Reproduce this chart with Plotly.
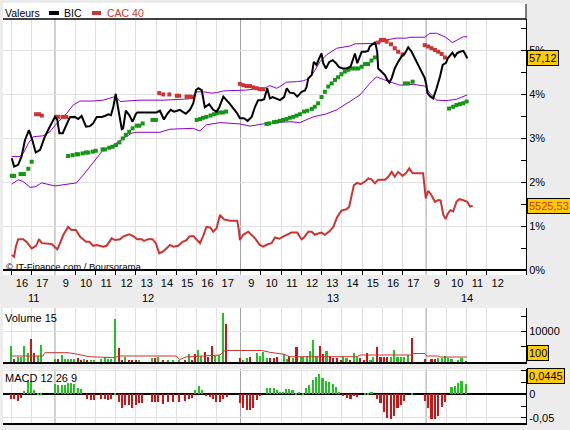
import plotly.graph_objects as go

# x unit = one 10-minute bar, bar 0 = day 12 at 9:00 (55 bars per session)
BARS_PER_DAY = 55
X_MIN, X_MAX = -15.4, 139.6

# BIC, % change
bic_bar = [-12.8, -12.1, -10.9, -9.9, -8.9, -7.7, -6.7, -5.7, -4.4, -3.0, -1.5, 0.0, 0.7, 1.3, 2.3, 3.5, 4.4,
           5.9, 6.9, 7.9, 9.2, 10.4, 11.3, 12.4, 13.8, 14.8, 15.8, 16.6, 17.3, 18.0, 18.5, 19.1, 19.8, 20.2,
           21.0, 22.0, 23.0, 24.0, 24.4, 30.1, 31.1, 32.3, 33.3, 34.3, 35.3, 36.2, 37.0, 38.0, 38.8, 40.0,
           41.0, 41.8, 42.5, 43.5, 44.4, 45.7, 46.9, 47.9, 48.7, 49.9, 50.9, 51.9, 52.8, 54.0, 54.8, 56.0,
           57.1, 58.3, 59.3, 60.2, 61.2, 62.0, 62.9, 63.7, 64.5, 65.5, 66.7, 67.9, 68.7, 69.6, 70.8, 71.8,
           73.1, 74.1, 74.6, 75.1, 76.1, 76.7, 77.5, 78.3, 79.0, 79.5, 80.3, 81.3, 82.3, 83.3, 84.2, 85.4,
           86.4, 87.6, 88.4, 88.9, 89.6, 90.2, 90.9, 91.9, 92.8, 93.3, 94.1, 94.8, 95.1, 95.5, 95.8, 96.8,
           97.8, 98.5, 99.1, 99.8, 100.7, 101.7, 102.7, 103.7, 104.7, 105.7, 106.7, 107.6, 108.6, 109.6,
           110.1, 110.4, 111.3, 112.1, 113.1, 114.1, 114.9, 115.9, 116.4, 117.0, 117.8, 118.5, 119.2, 120.0,
           121.0, 121.5, 122.2]
bic_pct = [2.54, 2.35, 2.39, 2.58, 2.95, 3.18, 2.95, 2.67, 2.73, 3.03, 3.26, 3.48, 3.41, 3.11, 3.11, 3.33,
           3.47, 3.48, 3.43, 3.50, 3.26, 3.27, 3.33, 3.48, 3.48, 3.50, 3.54, 3.52, 3.71, 4.00, 3.75, 3.45,
           3.20, 3.22, 3.62, 3.52, 3.37, 3.55, 3.58, 3.58, 3.62, 3.42, 3.55, 3.64, 3.60, 3.62, 3.64, 3.59,
           3.55, 3.64, 3.79, 4.09, 4.13, 4.09, 3.70, 3.77, 3.64, 3.60, 3.70, 3.94, 3.86, 3.77, 3.68, 3.56,
           3.45, 3.45, 3.39, 3.48, 3.71, 3.86, 3.86, 3.88, 4.13, 3.90, 3.93, 3.90, 3.86, 3.93, 4.13, 4.03,
           4.02, 3.94, 4.05, 4.08, 4.17, 4.36, 4.43, 4.73, 4.66, 4.81, 4.92, 4.70, 4.58, 4.73, 4.77, 4.70,
           4.61, 4.58, 4.58, 4.62, 4.81, 4.92, 4.70, 4.81, 4.96, 4.96, 4.98, 5.08, 5.14, 5.17, 5.11, 4.96,
           4.58, 4.51, 4.43, 4.32, 4.26, 4.36, 4.58, 4.73, 4.85, 4.92, 5.06, 4.96, 4.81, 4.66, 4.51, 4.36,
           4.20, 4.02, 3.94, 3.90, 4.13, 4.39, 4.66, 4.71, 4.81, 4.86, 4.94, 4.85, 4.93, 4.96, 4.98, 4.92,
           4.81]

# CAC 40, % change
cac_bar = [-12.8, -12.1, -11.6, -10.9, -9.4, -8.4, -6.9, -5.6, -4.7, -3.9, -1.0, 0.0, 0.7, 1.5, 2.5, 3.9,
           4.9, 6.2, 7.4, 9.2, 10.2, 11.3, 12.4, 14.3, 15.3, 16.8, 17.8, 19.3, 20.2, 22.0, 23.2, 24.4, 25.7,
           26.4, 27.6, 28.9, 29.9, 30.9, 32.1, 34.1, 35.1, 36.5, 37.8, 39.0, 39.8, 41.0, 42.0, 43.0, 43.9,
           44.9, 46.1, 46.9, 47.9, 48.9, 50.1, 51.9, 54.0, 54.5, 54.8, 55.8, 57.3, 59.3, 60.7, 61.7, 63.2,
           64.2, 65.2, 66.5, 67.6, 68.6, 70.1, 71.8, 73.1, 73.8, 75.1, 76.1, 77.0, 78.0, 79.0, 80.0, 81.5,
           82.5, 83.6, 84.9, 86.4, 87.2, 87.9, 88.6, 89.6, 90.6, 91.9, 92.9, 93.8, 94.8, 95.8, 97.8, 98.8,
           99.8, 100.7, 101.7, 103.0, 104.0, 105.0, 106.0, 109.1, 109.3, 109.6, 109.9, 110.6, 111.6, 112.6,
           113.6, 114.3, 115.1, 115.8, 116.5, 117.2, 118.0, 119.0, 119.8, 120.8, 122.2, 123.0, 123.8]
cac_pct = [0.34, 0.30, 0.53, 0.70, 0.70, 0.64, 0.49, 0.55, 0.70, 0.61, 0.59, 0.52, 0.47, 0.61, 0.80, 0.98,
           0.91, 0.91, 0.76, 0.64, 0.64, 0.55, 0.57, 0.53, 0.55, 0.72, 0.68, 0.70, 0.76, 0.81, 0.77, 0.70,
           0.70, 0.66, 0.70, 0.70, 0.61, 0.38, 0.42, 0.57, 0.53, 0.55, 0.64, 0.68, 0.76, 0.77, 0.68, 0.61,
           0.77, 0.98, 0.96, 0.87, 0.95, 1.25, 1.15, 1.12, 1.12, 0.91, 0.68, 0.80, 0.87, 0.72, 0.57, 0.53,
           0.59, 0.61, 0.74, 0.71, 0.76, 0.80, 0.85, 0.85, 0.70, 0.74, 0.87, 0.87, 0.80, 0.83, 0.85, 0.80,
           0.89, 0.98, 1.20, 1.35, 1.38, 1.44, 1.73, 1.93, 1.98, 1.95, 2.01, 2.08, 2.06, 1.97, 2.05, 2.05,
           2.12, 2.23, 2.12, 2.23, 2.14, 2.20, 2.31, 2.20, 2.20, 2.05, 1.93, 1.63, 1.80, 1.70, 1.55, 1.59,
           1.58, 1.25, 1.16, 1.29, 1.36, 1.33, 1.55, 1.61, 1.59, 1.55, 1.44, 1.46]

# Bollinger bands on BIC
boll_up_bar = [-12.8, -10.4, -9.4, -7.9, -6.4, -3.5, -1.5, 0.5, 3.5, 5.4, 7.4, 11.3, 14.3, 17.3, 18.1, 19.3,
               21.2, 25.2, 32.1, 40.0, 42.0, 43.9, 46.4, 47.9, 49.9, 56.8, 60.7, 62.2, 63.7, 65.7, 66.7, 68.7,
               71.6, 73.6, 74.6, 76.5, 78.5, 80.5, 83.5, 87.4, 88.9, 92.4, 95.3, 98.3, 101.2, 104.2, 105.2,
               109.6, 111.1, 113.1, 115.6, 117.8, 119.5, 121.0, 122.2]
boll_up = [2.58, 2.58, 2.65, 2.88, 3.03, 3.05, 3.14, 3.33, 3.56, 3.75, 3.84, 3.84, 3.86, 3.93, 3.93, 3.83,
           3.84, 3.86, 3.86, 3.89, 4.05, 4.05, 4.02, 4.03, 4.07, 4.09, 4.13, 4.13, 4.19, 4.13, 4.17, 4.27,
           4.28, 4.30, 4.33, 4.47, 4.73, 4.89, 5.04, 5.09, 5.14, 5.15, 5.15, 5.23, 5.27, 5.27, 5.29, 5.29,
           5.38, 5.38, 5.30, 5.17, 5.23, 5.30, 5.30]
boll_lo_bar = [-12.8, -10.9, -9.4, -7.4, -5.9, -3.9, 0.0, 3.5, 6.4, 8.4, 10.4, 12.4, 14.3, 17.3, 20.2, 22.7,
               24.2, 31.1, 34.1, 41.0, 43.0, 44.9, 48.9, 54.8, 57.8, 61.7, 65.7, 69.6, 72.6, 76.5, 80.5, 83.5,
               87.4, 90.4, 93.3, 95.3, 97.3, 99.3, 102.2, 106.2, 109.6, 111.1, 113.1, 116.1, 119.0, 122.2]
boll_lo = [1.95, 2.05, 2.01, 1.88, 1.89, 1.98, 1.91, 1.95, 1.98, 2.16, 2.35, 2.56, 2.73, 2.84, 2.99, 3.11,
           3.13, 3.13, 3.20, 3.22, 3.16, 3.30, 3.35, 3.32, 3.27, 3.32, 3.35, 3.37, 3.35, 3.48, 3.55, 3.64,
           3.83, 3.98, 4.24, 4.39, 4.33, 4.28, 4.20, 4.22, 4.18, 4.02, 3.86, 3.85, 3.88, 3.98]

# Parabolic SAR: below price (green) / above price (red)
sar_lo_bar = [-12.8, -12.1, -10.2, -9.2, -7.9, -6.9,
              3.9, 5.2, 6.4, 6.9, 8.2, 9.2, 9.9, 11.2, 12.1, 14.1, 14.8, 16.1, 17.1, 18.1, 19.1, 20.1, 21.0,
              22.0, 23.0, 24.2, 25.0, 26.0, 28.9, 29.9,
              42.0, 43.0, 43.9, 44.9, 46.1, 47.1, 47.9, 48.9, 49.7, 50.7,
              62.7, 63.5, 64.9, 65.7, 66.7, 67.6, 68.6, 69.6, 70.6, 71.6, 72.6, 73.8, 74.8, 76.1, 77.0, 78.0,
              79.0, 80.0, 81.0, 82.0, 83.0, 83.9, 84.9, 85.9, 86.9, 87.9, 88.9, 89.9, 90.9, 91.9, 92.8, 93.8,
              94.8, 103.7, 104.7, 106.0,
              116.8, 118.0, 119.0, 120.0, 121.0, 122.0]
sar_lo = [2.14, 2.14, 2.18, 2.18, 2.30, 2.46,
          2.59, 2.61, 2.63, 2.63, 2.65, 2.67, 2.67, 2.69, 2.71, 2.74, 2.74, 2.78, 2.80, 2.84, 2.90, 2.99, 3.07,
          3.14, 3.22, 3.28, 3.28, 3.33, 3.41, 3.41,
          3.41, 3.43, 3.46, 3.48, 3.51, 3.54, 3.56, 3.58, 3.58, 3.60,
          3.32, 3.33, 3.36, 3.37, 3.39, 3.41, 3.43, 3.46, 3.48, 3.51, 3.54, 3.60, 3.62, 3.66, 3.71, 3.79,
          3.93, 4.05, 4.17, 4.24, 4.32, 4.38, 4.45, 4.51, 4.55, 4.58, 4.58, 4.58, 4.62, 4.68, 4.68, 4.76,
          4.83, 4.24, 4.24, 4.28,
          3.67, 3.71, 3.75, 3.77, 3.79, 3.83]
sar_hi_bar = [-5.6, -4.7, -3.9, 0.3, 1.0, 2.3, 3.3,
              30.9, 32.1, 33.9, 36.1, 36.8, 39.0, 40.0, 40.8,
              54.8, 55.8, 56.8, 57.8, 58.8, 59.8, 60.7, 61.7,
              95.8, 96.6, 97.6, 98.3, 99.6, 100.7, 101.7, 103.0,
              109.6, 110.6, 111.6, 112.6, 113.6, 114.6, 115.6]
sar_hi = [3.54, 3.54, 3.51, 3.48, 3.48, 3.48, 3.48,
          4.02, 3.99, 3.99, 3.96, 3.96, 3.94, 3.94, 3.93,
          4.23, 4.20, 4.18, 4.18, 4.15, 4.13, 4.11, 4.11,
          5.17, 5.23, 5.23, 5.19, 5.13, 5.04, 4.96, 4.90,
          5.11, 5.08, 5.04, 5.00, 4.96, 4.91, 4.83]

# Volume (15) - bar, shares, up (1) / down (0)
vol_bar = [-13.0, -12.2, -11.0, -10.1, -9.2, -8.0, -7.1, -6.2, -5.1, -4.2,
           0.0, 0.9, 2.1, 3.0, 3.9, 4.7, 5.6, 6.8, 7.7, 8.6, 9.5, 10.7, 11.6, 13.6, 14.8, 15.7, 16.6, 17.8,
           19.0, 19.9, 20.7, 21.9, 22.8, 24.0, 24.9, 28.7, 29.6, 30.5, 32.0, 33.5, 35.0, 36.7, 38.5, 39.7,
           40.6, 41.5, 42.4, 43.3, 44.4, 45.3, 46.5, 47.4, 48.6, 49.7, 50.7,
           54.8, 55.7, 56.9, 57.8, 59.9, 60.7, 61.6, 62.8, 63.7, 64.9, 65.8, 67.9, 68.7, 69.4, 70.6, 71.6,
           72.8, 73.6, 74.6, 75.6, 76.5, 77.5, 78.5, 79.5, 80.5, 81.5, 82.5, 83.6, 84.7, 85.4, 86.4, 87.4,
           88.6, 89.6, 90.4, 91.6, 92.5, 93.5, 94.3, 95.5, 96.5, 97.5, 98.5, 99.5, 100.5, 101.5, 102.5,
           103.5, 104.7, 105.7,
           109.6, 111.6, 112.6, 113.6, 114.6, 115.6, 116.5, 117.5, 119.5, 120.5, 121.8]
vol = [5350, 1000, 1750, 1750, 5350, 3050, 7500, 2800, 2050, 5550,
       1000, 1000, 2300, 1000, 1000, 1000, 1000, 1200, 550, 1000, 550, 650, 650, 1000, 1750, 1000, 1000, 14050,
       4450, 650, 1750, 650, 650, 650, 650, 1400, 1400, 1750, 650, 330, 330, 330, 650, 2500,
       650, 2500, 3900, 2050, 3150, 1750, 5250, 1950, 2300, 16100, 12400,
       1400, 650, 1400, 1750, 3050, 2050, 3150, 1400, 1400, 1400, 1750, 2500, 1000, 2050, 1400, 5000,
       1750, 1750, 1950, 3600, 7200, 2050, 5350, 2500, 3600, 2050, 1400, 1400, 650, 2050, 1400, 650,
       2800, 1750, 1400, 650, 2800, 650, 1750, 5000, 1750, 1750, 1750, 1750, 3900, 1750, 1750,
       1750, 2300, 7950,
       1000, 1000, 1000, 1200, 1400, 2050, 1200, 1000, 650, 1400, 100]
vol_up = [1, 0, 1, 1, 1, 1, 0, 0, 1, 1,
          1, 0, 1, 1, 1, 1, 1, 0, 0, 1, 0, 1, 1, 1, 1, 1, 1, 1,
          0, 0, 1, 0, 0, 0, 1, 1, 0, 1, 0, 1, 1, 1, 0, 1,
          0, 0, 1, 1, 0, 0, 0, 1, 1, 1, 0,
          0, 1, 1, 0, 1, 1, 1, 1, 0, 0, 0, 1, 1, 0, 1, 0,
          1, 1, 1, 1, 1, 1, 0, 0, 1, 0, 0, 0, 0, 1, 1, 0,
          1, 1, 0, 0, 0, 1, 1, 0, 0, 0, 0, 1, 1, 1, 1,
          1, 1, 0,
          0, 0, 0, 1, 1, 1, 1, 1, 1, 1, 0]
volma_bar = [-13.0, -3.6, -3.0, 3.9, 6.8, 10.1, 17.8, 18.7, 35.9, 37.0, 38.8, 46.5, 48.9, 50.4, 61.3, 63.7,
             67.9, 69.6, 89.5, 90.4, 105.8, 106.1, 109.6, 110.2, 113.5, 114.1, 122.1]
volma = [1960, 1960, 3040, 3040, 2520, 1730, 1400, 1960, 1960, 820, 1630, 1960, 2290, 3760, 3760, 3170,
         2520, 1730, 1730, 2290, 2290, 2780, 2780, 1960, 1960, 1630, 1630]

# MACD 12 26 9 histogram
macd_bar = [-13.0, -12.2, -11.0, -10.1, -9.2, -8.0, -7.1, -6.2, -5.1, -4.2,
            0.0, 0.9, 2.1, 3.0, 3.9, 4.7, 5.6, 6.8, 7.7, 9.5, 10.7, 11.6, 13.6, 14.8, 15.7, 16.6, 17.8, 19.0,
            19.9, 20.7, 21.9, 22.8, 24.0, 24.9, 25.8, 28.7, 29.6, 30.5, 32.0, 33.5, 35.0, 36.7, 38.5, 39.7,
            40.6, 41.5, 42.7, 43.6, 44.7, 45.9, 46.8, 47.7, 48.9, 49.8, 51.0,
            54.8, 55.7, 56.9, 57.8, 58.7, 59.9, 60.7, 62.8, 63.7, 64.9, 65.8, 66.7, 67.5, 68.4, 69.4, 70.4,
            71.4, 72.4, 73.4, 74.4, 75.4, 76.4, 77.3, 78.3, 79.3, 80.3, 81.3, 82.3, 83.3, 84.2, 85.4, 86.6,
            87.6, 88.6, 89.6, 91.9, 92.8, 93.8, 95.5, 96.5, 97.5, 98.5, 99.5, 100.5, 101.5, 102.5, 103.5,
            105.7,
            109.6, 110.6, 111.6, 112.6, 113.6, 114.6, 115.6, 117.5, 118.5, 119.5, 120.5, 121.8]
macd = [-0.0107, -0.0107, -0.0135, -0.0085, 0.0071, 0.0285, 0.0285, 0.0093, 0.0036, 0.0014,
        0.0214, 0.0200, 0.0200, 0.0200, 0.0235, 0.0235, 0.0214, 0.0142, 0.0107, -0.0100, -0.0120, -0.0120,
        -0.0107, -0.0107, -0.0120, -0.0107, 0.0020, -0.0157,
        -0.0285, -0.0228, -0.0228, -0.0285, -0.0228, -0.0192, -0.0178, -0.0157, -0.0157, -0.0157, -0.0214,
        -0.0171, -0.0171, -0.0157, -0.0142, -0.0100,
        -0.0085, 0.0093, 0.0178, 0.0093, -0.0030, -0.0050, -0.0100, -0.0171, -0.0171, -0.0100, -0.0050,
        -0.0192, -0.0285, -0.0335, -0.0335, -0.0300, -0.0120, -0.0036, 0.0128, 0.0128, 0.0128, 0.0093,
        0.0057, 0.0057, 0.0114, 0.0114, 0.0093,
        0.0014, 0.0057, 0.0036, 0.0128, 0.0200, 0.0306, 0.0378, 0.0427, 0.0356, 0.0285, 0.0256, 0.0214,
        0.0164, 0.0057, -0.0030, -0.0071,
        -0.0100, -0.0030, -0.0064, 0.0020, 0.0020, 0.0043, -0.0100, -0.0192, -0.0370, -0.0499, -0.0527,
        -0.0456, -0.0300, -0.0228, -0.0142,
        0.0030,
        -0.0142, -0.0300, -0.0527, -0.0527, -0.0456, -0.0264, -0.0157, 0.0164, 0.0185, 0.0235, 0.0285,
        0.0214]

last_bic = "57,12"
last_cac = "5525,53"
last_vol = "100"
last_macd = "0,0445"

# sessions shown: day, first hour on screen, last hour
sessions = [("11", 16, 17), ("12", 9, 17), ("13", 9, 17), ("14", 9, 12)]

W, H = 570, 430
ML, MR, MT, MB = 3, 44, 19, 7
PW = W - ML - MR
PH = H - MT - MB


def fx(px):
    return (px - ML) / PW


def fy(py):
    return (H - MB - py) / PH


FONT = "Liberation Sans, Arial, sans-serif"
GREEN = "#1fc41f"
RED = "#cc1414"
CACRED = "#cc3333"
SARGREEN = "#149614"
PURPLE = "#8c00c8"
GRID = "#e1e1e1"
DAYLINE = "#a0a0a0"

# hour grid / labels
hour_lines = []
hour_pos = []
hour_txt = []
day_starts = []
day_pos = []
for k, (day, h0, h1) in enumerate(sessions):
    start = (k - 1) * BARS_PER_DAY          # 9:00 of that day
    day_starts.append(start)
    for h in range(h0, h1 + 1):
        b = start + (h - 9) * 6
        if h > h0 or b > X_MIN:
            hour_lines.append(b)
        if b < X_MIN:
            hour_pos.append((X_MIN + b + 6) / 2)
        else:
            hour_pos.append(b + 3.2)
        hour_txt.append(str(h))
    first = max(start + (h0 - 9) * 6, X_MIN)
    last = min(start + BARS_PER_DAY, start + (h1 - 9 + 1) * 6)
    day_pos.append((first + (start + BARS_PER_DAY if h1 == 17 else last)) / 2)
hour_lines = [b for b in hour_lines if b not in day_starts]

fig = go.Figure()

fig.add_trace(go.Scatter(x=boll_up_bar, y=boll_up, mode="lines", line=dict(color=PURPLE, width=1)))
fig.add_trace(go.Scatter(x=boll_lo_bar, y=boll_lo, mode="lines", line=dict(color=PURPLE, width=1)))
fig.add_trace(go.Scatter(x=cac_bar, y=cac_pct, mode="lines", line=dict(color=CACRED, width=2)))
fig.add_trace(go.Scatter(x=sar_lo_bar, y=sar_lo, mode="markers",
                         marker=dict(symbol="square", size=4, color=SARGREEN, line=dict(width=0))))
fig.add_trace(go.Scatter(x=sar_hi_bar, y=sar_hi, mode="markers",
                         marker=dict(symbol="square", size=4, color=CACRED, line=dict(width=0))))
fig.add_trace(go.Scatter(x=bic_bar, y=bic_pct, mode="lines", line=dict(color="black", width=2)))

fig.add_trace(go.Bar(x=vol_bar, y=vol, width=0.65, xaxis="x2", yaxis="y2",
                     marker=dict(color=[GREEN if u else RED for u in vol_up], line=dict(width=0))))
fig.add_trace(go.Scatter(x=volma_bar, y=volma, mode="lines", xaxis="x2", yaxis="y2",
                         line=dict(color=CACRED, width=1)))
fig.add_trace(go.Bar(x=macd_bar, y=macd, width=0.65, xaxis="x3", yaxis="y3",
                     marker=dict(color=[GREEN if v > 0 else RED for v in macd], line=dict(width=0))))

grid_minor = dict(tickmode="array", tickvals=hour_lines, showgrid=True, gridcolor=GRID, gridwidth=1)

fig.update_layout(
    width=W, height=H,
    margin=dict(l=ML, r=MR, t=MT, b=MB),
    paper_bgcolor="#ececec", plot_bgcolor="white",
    showlegend=False, bargap=0,
    font=dict(family=FONT, size=11, color="black"),
    xaxis=dict(range=[X_MIN, X_MAX], domain=[0, 1], anchor="y",
               tickmode="array", tickvals=hour_pos, ticktext=hour_txt, ticks="",
               showgrid=False, zeroline=False, showline=False,
               tickfont=dict(size=11),
               minor=dict(grid_minor, ticks="inside", ticklen=5, tickcolor="black")),
    yaxis=dict(domain=[fy(275), 1], range=[-5 / 44, (270 - 19) / 44], side="right", anchor="x",
               tickmode="array", tickvals=[0, 1, 2, 3, 4, 5],
               ticktext=["0%", "1%", "2%", "3%", "4%", "5%"],
               ticks="inside", ticklen=5, tickcolor="black", gridcolor=GRID,
               showline=True, linecolor="black", linewidth=1,
               zeroline=True, zerolinecolor="black", zerolinewidth=1.5,
               minor=dict(dtick=0.5, ticks="inside", ticklen=5, tickcolor="black", showgrid=False)),
    xaxis2=dict(matches="x", domain=[0, 1], anchor="y2", showticklabels=False, ticks="",
                showgrid=False, zeroline=False, showline=True, linecolor="black", linewidth=1.5,
                minor=grid_minor),
    yaxis2=dict(domain=[fy(362), fy(308)], range=[0, (362 - 308) * 327], side="right", anchor="x2",
                tickmode="array", tickvals=[10000], ticktext=["10000"],
                ticks="inside", ticklen=5, tickcolor="black", gridcolor=GRID,
                showline=True, linecolor="black", linewidth=1, zeroline=False,
                minor=dict(dtick=5000, ticks="inside", ticklen=5, tickcolor="black", showgrid=False)),
    xaxis3=dict(matches="x", domain=[0, 1], anchor="y3", showticklabels=False, ticks="",
                showgrid=False, zeroline=False, showline=True, linecolor="black", linewidth=1.5,
                minor=grid_minor),
    yaxis3=dict(domain=[0, fy(369)], range=[-28.7 * 0.025 / 11.7, 25.3 * 0.025 / 11.7],
                side="right", anchor="x3",
                tickmode="array", tickvals=[-0.05, 0, 0.05], ticktext=["-0,05", "0", ""],
                ticks="inside", ticklen=5, tickcolor="black", gridcolor=GRID,
                showline=True, linecolor="black", linewidth=1,
                zeroline=True, zerolinecolor="black", zerolinewidth=1.5,
                minor=dict(dtick=0.025, ticks="inside", ticklen=5, tickcolor="black", showgrid=False)),
)

shapes = []
# day separators in every panel
for ya in ["y", "y2", "y3"]:
    for s in day_starts[1:]:
        shapes.append(dict(type="line", xref="x", yref=ya + " domain", x0=s, x1=s, y0=0, y1=1,
                           line=dict(color=DAYLINE, width=1), layer="below"))
# legend strip above the main panel
shapes.append(dict(type="rect", xref="paper", yref="paper", x0=fx(3), x1=fx(526), y0=fy(19), y1=fy(3),
                   fillcolor="white", line=dict(width=0), layer="below"))
shapes.append(dict(type="line", xref="paper", yref="paper", x0=fx(3), x1=fx(526), y0=fy(19), y1=fy(19),
                   line=dict(color="black", width=1.5)))
shapes.append(dict(type="line", xref="paper", yref="paper", x0=fx(526), x1=fx(526), y0=fy(19), y1=fy(4),
                   line=dict(color="black", width=1)))
# legend swatches
shapes.append(dict(type="rect", xref="paper", yref="paper", x0=fx(49), x1=fx(59), y0=fy(15), y1=fy(11),
                   fillcolor="black", line=dict(width=0)))
shapes.append(dict(type="rect", xref="paper", yref="paper", x0=fx(92), x1=fx(101), y0=fy(15), y1=fy(11),
                   fillcolor=CACRED, line=dict(width=0)))
fig.update_layout(shapes=shapes)

ann = []


def txt(x, y, t, color="black", size=11, xanchor="left"):
    ann.append(dict(x=x, y=y, xref="paper", yref="paper", text=t, showarrow=False,
                    xanchor=xanchor, yanchor="middle", font=dict(color=color, size=size)))


txt(fx(3), fy(12.5), "Valeurs", size=10.5)
txt(fx(62), fy(12.5), "BIC", size=10.5)
txt(fx(105), fy(12.5), "CAC 40", color=CACRED, size=10.5)
txt(fx(4), fy(266.5), "© IT-Finance.com / Boursorama", size=9.5)
txt(fx(3), fy(317.5), "Volume 15")
txt(fx(3), fy(378), "MACD 12 26 9")
for d, p in zip(sessions, day_pos):
    ann.append(dict(x=p, y=fy(298), xref="x", yref="paper", text=d[0], showarrow=False,
                    xanchor="center", yanchor="middle", font=dict(size=11)))


def box(y, yref, t, color="black"):
    ann.append(dict(x=fx(526.5), y=y, xref="paper", yref=yref, text=t, showarrow=False,
                    xanchor="left", yanchor="middle", font=dict(color=color, size=11),
                    bgcolor="#ffcc00", bordercolor="black", borderwidth=1, borderpad=1))


box(bic_pct[-1], "y", last_bic)
box(cac_pct[-1], "y", last_cac, color=CACRED)
box(fy(353), "paper", last_vol)
box(fy(375.5), "paper", last_macd)
fig.update_layout(annotations=ann)

# the page's default body margin would shift the figure by 8px
fig.write_html("out.html", config={"displayModeBar": False},
               post_script="document.body.style.margin='0';")
